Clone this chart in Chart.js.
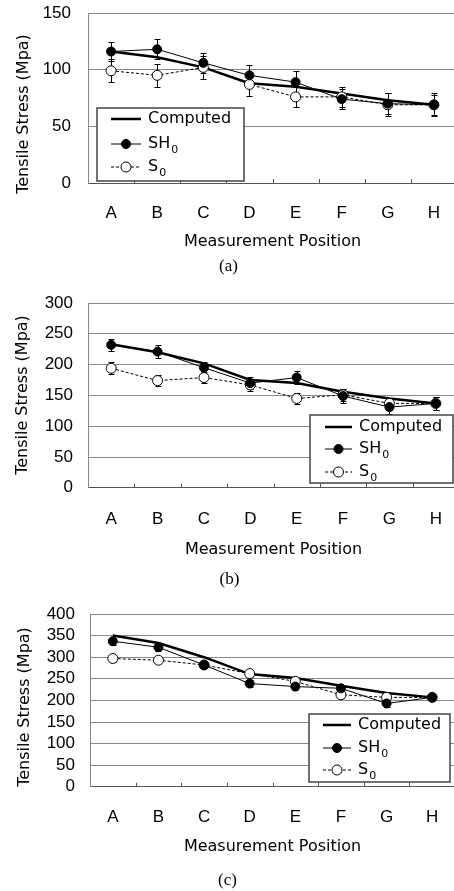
<!DOCTYPE html>
<html>
<head>
<meta charset="utf-8">
<script src="https://cdn.jsdelivr.net/npm/chart.js@4.4.1/dist/chart.umd.min.js"></script>
<style>
  html, body { margin: 0; padding: 0; background: #fff; overflow: hidden; width: 454px; height: 891px; position: relative; }
  canvas { position: absolute; left: 0; }
</style>
</head>
<body>
<canvas id="chartA" width="470" height="285" style="top:0px"></canvas>
<canvas id="chartB" width="470" height="305" style="top:285px"></canvas>
<canvas id="chartC" width="470" height="301" style="top:590px"></canvas>
<script>
// Posiciones de medida (eje X)
const positions = ['A', 'B', 'C', 'D', 'E', 'F', 'G', 'H'];

// Panel (a)
const computedA = [116, 111, 102, 88, 85, 79, 73, 69];
const sh0A = [116, 118, 106, 95, 89, 74, 70, 69];
const s0A = [99, 95, 102, 87, 76, 76, 69, 69];
const sh0ErrA = [8, 9, 9, 9, 10, 9, 9, 9];
const s0ErrA = [10, 10, 10, 10, 9, 9, 10, 10];
const yTicksA = [0, 50, 100, 150];

// Panel (b)
const computedB = [233, 220, 202, 175, 170, 156, 145, 137];
const sh0B = [232, 221, 195, 170, 179, 149, 131, 137];
const s0B = [194, 174, 179, 167, 145, 151, 137, 137];
const sh0ErrB = [10, 11, 10, 10, 11, 11, 11, 10];
const s0ErrB = [10, 9, 9, 10, 9, 10, 9, 10];
const yTicksB = [0, 50, 100, 150, 200, 250, 300];

// Panel (c)
const computedC = [350, 333, 300, 261, 252, 234, 217, 207];
const sh0C = [337, 323, 282, 239, 232, 228, 193, 207];
const s0C = [297, 293, 282, 262, 244, 213, 207, 207];
const sh0ErrC = [8, 8, 8, 8, 9, 8, 8, 8];
const s0ErrC = [7, 7, 7, 7, 7, 8, 7, 7];
const yTicksC = [0, 50, 100, 150, 200, 250, 300, 350, 400];

Chart.defaults.font.family = '"Liberation Sans", Arial, sans-serif';
Chart.defaults.color = '#000';

// Barras de error (se dibujan antes que las series para que los marcadores queden encima)
const errorBars = {
    id: 'errorBars',
    beforeDatasetsDraw(chart) {
        const { ctx, scales: { x, y } } = chart;
        ctx.save();
        ctx.strokeStyle = '#000';
        ctx.lineWidth = 1;
        chart.data.datasets.forEach(ds => {
            if (!ds.errors) return;
            ds.data.forEach((v, j) => {
                const px = Math.round(x.getPixelForValue(j)) + 0.5;
                const top = Math.round(y.getPixelForValue(v + ds.errors[j])) + 0.5;
                const bot = Math.round(y.getPixelForValue(v - ds.errors[j])) + 0.5;
                ctx.beginPath();
                ctx.moveTo(px, top); ctx.lineTo(px, bot);
                ctx.moveTo(px - 3, top); ctx.lineTo(px + 3, top);
                ctx.moveTo(px - 3, bot); ctx.lineTo(px + 3, bot);
                ctx.stroke();
            });
        });
        ctx.restore();
    }
};

// Marcas cortas hacia dentro entre categorías
const innerTicks = {
    id: 'innerTicks',
    afterDraw(chart) {
        const { ctx, scales: { x }, chartArea } = chart;
        ctx.save();
        ctx.strokeStyle = '#555';
        ctx.lineWidth = 1;
        for (let i = 1; i < positions.length; i++) {
            const px = Math.round((x.getPixelForValue(i - 1) + x.getPixelForValue(i)) / 2) + 0.5;
            ctx.beginPath();
            ctx.moveTo(px, chartArea.bottom);
            ctx.lineTo(px, chartArea.bottom - 4);
            ctx.stroke();
        }
        ctx.restore();
    }
};

// Título vertical del eje Y
const yTitle = {
    id: 'yTitle',
    afterDraw(chart, args, opts) {
        const ctx = chart.ctx;
        ctx.save();
        ctx.translate(opts.x, opts.y);
        ctx.rotate(-Math.PI / 2);
        ctx.font = '16px "DejaVu Sans"';
        ctx.fillStyle = '#000';
        ctx.textAlign = 'center';
        ctx.textBaseline = 'middle';
        ctx.fillText(opts.text, 0, 0);
        ctx.restore();
    }
};

// Leyenda en recuadro dentro del área de trazado
const legendBox = {
    id: 'legendBox',
    afterDraw(chart, args, o) {
        const ctx = chart.ctx;
        const ds = chart.data.datasets;
        const items = [ds[2], ds[0], ds[1]];
        ctx.save();
        ctx.fillStyle = '#fff';
        ctx.fillRect(o.x, o.y, o.w, o.h);
        ctx.strokeStyle = '#444';
        ctx.lineWidth = 1.5;
        ctx.strokeRect(o.x, o.y, o.w, o.h);
        items.forEach((d, k) => {
            const ry = o.y + o.rows[k];
            const mid = (o.line[0] + o.line[1]) / 2;
            ctx.strokeStyle = '#000';
            ctx.lineWidth = d.borderWidth;
            ctx.setLineDash(d.borderDash || []);
            ctx.beginPath();
            ctx.moveTo(o.line[0], ry);
            ctx.lineTo(o.line[1], ry);
            ctx.stroke();
            ctx.setLineDash([]);
            if (d.pointRadius > 0) {
                ctx.beginPath();
                ctx.arc(mid, ry, d.pointRadius, 0, Math.PI * 2);
                ctx.fillStyle = d.pointBackgroundColor;
                ctx.fill();
                ctx.lineWidth = 1;
                ctx.stroke();
            }
            ctx.fillStyle = '#000';
            ctx.font = '16px "DejaVu Sans"';
            ctx.textAlign = 'left';
            ctx.textBaseline = 'middle';
            ctx.fillText(d.label, o.textX, ry);
            if (d.sub) {
                const w = ctx.measureText(d.label).width;
                ctx.font = '11px "DejaVu Sans"';
                ctx.fillText(d.sub, o.textX + w + 1, ry + 6);
            }
        });
        ctx.restore();
    }
};

function crearPanel(id, p) {
    return new Chart(document.getElementById(id), {
        type: 'line',
        data: {
            labels: positions,
            datasets: [
                { label: 'SH', sub: '0', data: p.sh0, errors: p.sh0Err, borderColor: '#000', borderWidth: 1,
                  pointRadius: 4.5, pointBackgroundColor: '#000', pointBorderColor: '#000', order: 1 },
                { label: 'S', sub: '0', data: p.s0, errors: p.s0Err, borderColor: '#000', borderWidth: 1, borderDash: [3, 2],
                  pointRadius: 5, pointBackgroundColor: '#fff', pointBorderColor: '#000', pointBorderWidth: 1, order: 2 },
                { label: 'Computed', data: p.computed, borderColor: '#000', borderWidth: 2.5, pointRadius: 0, order: 3 }
            ]
        },
        options: {
            responsive: false,
            animation: false,
            events: [],
            layout: { padding: { top: p.top, right: p.right, left: 0, bottom: 0 } },
            plugins: {
                legend: { display: false },
                tooltip: { enabled: false },
                title: {
                    display: true, position: 'bottom', text: p.caption, color: '#000',
                    font: { family: '"Liberation Serif", serif', size: 17, weight: 'normal' },
                    padding: { top: p.capTop, bottom: p.capBottom }
                },
                yTitle: { text: 'Tensile Stress (Mpa)', x: p.yTitleX, y: p.yTitleY },
                legendBox: p.legend
            },
            scales: {
                x: {
                    offset: true,
                    grid: { display: false, drawTicks: false },
                    border: { display: true, color: '#555', width: 1 },
                    ticks: { font: { size: 17 }, padding: p.xPad, maxRotation: 0, autoSkip: false },
                    title: {
                        display: true, text: 'Measurement Position',
                        font: { family: '"DejaVu Sans"', size: 16 },
                        padding: { top: 0, bottom: p.xTitlePad }
                    },
                    afterFit: s => { s.height = p.xHeight; }
                },
                y: {
                    min: p.yTicks[0],
                    max: p.yTicks[p.yTicks.length - 1],
                    afterBuildTicks: s => { s.ticks = p.yTicks.map(v => ({ value: v })); },
                    grid: { color: '#888', drawTicks: false },
                    border: { color: '#888' },
                    ticks: { font: { size: 17 }, padding: p.yPad, autoSkip: false },
                    afterFit: s => {
                        s.width = p.yWidth;
                        // el área de trazado la fija layout.padding
                        s.paddingTop = 0;
                        s.paddingBottom = 0;
                    }
                }
            }
        },
        plugins: [errorBars, innerTicks, yTitle, legendBox]
    });
}

crearPanel('chartA', {
    computed: computedA, sh0: sh0A, s0: s0A, sh0Err: sh0ErrA, s0Err: s0ErrA, yTicks: yTicksA,
    caption: '(a)', top: 13, right: 13, yWidth: 88, yPad: 17, xPad: 20, xHeight: 70, xTitlePad: 2,
    capTop: 3.8, capBottom: 7.8, yTitleX: 24, yTitleY: 114,
    legend: { x: 97, y: 108, w: 147, h: 73, rows: [11, 36, 59], line: [111, 141], textX: 148 }
});

crearPanel('chartB', {
    computed: computedB, sh0: sh0B, s0: s0B, sh0Err: sh0ErrB, s0Err: s0ErrB, yTicks: yTicksB,
    caption: '(b)', top: 18, right: 11, yWidth: 88, yPad: 15, xPad: 21, xHeight: 75, xTitlePad: 3.4,
    capTop: 6.8, capBottom: 0, yTitleX: 23, yTitleY: 110,
    legend: { x: 310, y: 130, w: 143, h: 68, rows: [12, 34, 57], line: [325, 352], textX: 359 }
});

crearPanel('chartC', {
    computed: computedC, sh0: sh0C, s0: s0C, sh0Err: sh0ErrC, s0Err: s0ErrC, yTicks: yTicksC,
    caption: '(c)', top: 24, right: 15, yWidth: 90, yPad: 15, xPad: 20, xHeight: 70, xTitlePad: 0,
    capTop: 13.8, capBottom: 0, yTitleX: 25, yTitleY: 117,
    legend: { x: 309, y: 124, w: 141, h: 68, rows: [11, 34, 56], line: [323, 351], textX: 358 }
});
</script>
</body>
</html>
